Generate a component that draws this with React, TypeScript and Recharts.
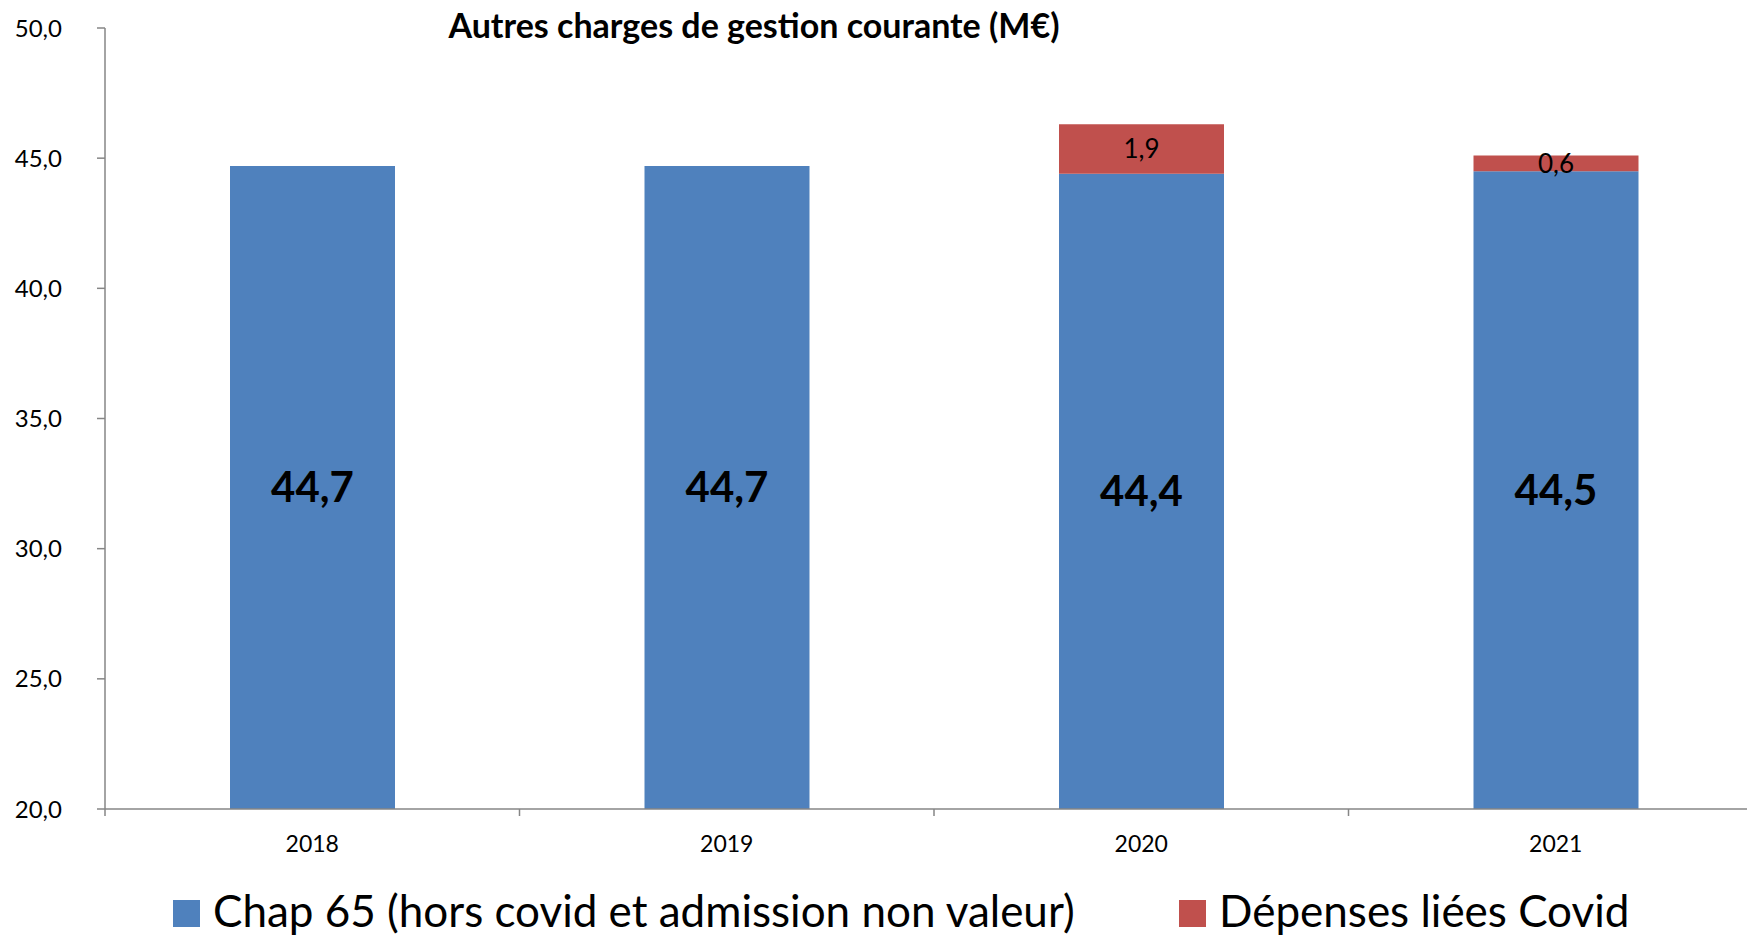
import React from 'react';
import { BarChart, Bar, XAxis, YAxis, LabelList } from 'recharts';

const categories = ['2018', '2019', '2020', '2021'];
const chap65Values = [44.7, 44.7, 44.4, 44.5];
const covidValues: (number | null)[] = [null, null, 1.9, 0.6];
const yTicks = [20, 25, 30, 35, 40, 45, 50];
const seriesNames = ['Chap 65 (hors covid et admission non valeur)', 'Dépenses liées Covid'];
const title = 'Autres charges de gestion courante (M€)';

const BLUE = '#4F81BD';
const RED = '#C0504D';
const GRAY = '#868686';

const data = categories.map((year, i) => ({
  year,
  chap65: chap65Values[i],
  covid: covidValues[i],
}));

const fmt = (v: any) => (v === null || v === undefined || v === '' ? '' : Number(v).toFixed(1).replace('.', ','));

const CHART_W = 1763;
const CHART_H = 936;
const Y_AXIS_W = 105;
const X_AXIS_H = 60;
const PLOT_W = CHART_W - Y_AXIS_W;
const BAND = PLOT_W / categories.length;

const XTick = (props: any) => {
  const { x, y, payload } = props;
  const bx = x - BAND / 2;
  return (
    <g>
      <line x1={bx} x2={bx} y1={y} y2={y + 7} stroke={GRAY} strokeWidth={1.5} />
      <text x={x} y={y + 43} textAnchor="middle" fontSize={23} fill="#000" fontFamily="Lato">
        {payload.value}
      </text>
    </g>
  );
};

export default function App() {
  return (
    <div style={{ position: 'relative', width: 1747, height: 936, overflow: 'hidden', fontFamily: 'Lato', background: '#fff' }}>
      <style>{`body{margin:0;overflow:hidden;}`}</style>
      <BarChart
        width={CHART_W}
        height={CHART_H}
        data={data}
        margin={{ top: 28, right: 0, bottom: 127 - X_AXIS_H, left: 0 }}
      >
        <XAxis
          dataKey="year"
          height={X_AXIS_H}
          tickLine={false}
          tickSize={0}
          tickMargin={0}
          interval={0}
          tick={<XTick />}
          axisLine={{ stroke: GRAY, strokeWidth: 1.5 }}
        />
        <YAxis
          type="number"
          domain={[20, 50]}
          ticks={yTicks}
          allowDataOverflow
          width={Y_AXIS_W}
          tickFormatter={fmt}
          tickSize={8}
          tickMargin={35}
          tick={{ fontSize: 24, fill: '#000', fontFamily: 'Lato' }}
          tickLine={{ stroke: GRAY, strokeWidth: 1.5 }}
          axisLine={{ stroke: GRAY, strokeWidth: 1.5 }}
        />
        <Bar dataKey="chap65" stackId="a" fill={BLUE} barSize={165} isAnimationActive={false}>
          <LabelList
            dataKey="chap65"
            position="center"
            formatter={fmt}
            fill="#000"
            fontSize={42}
            fontWeight={700}
            fontFamily="Lato"
          />
        </Bar>
        <Bar dataKey="covid" stackId="a" fill={RED} barSize={165} isAnimationActive={false}>
          <LabelList
            dataKey="covid"
            position="center"
            formatter={fmt}
            fill="#000"
            fontSize={26}
            fontFamily="Lato"
          />
        </Bar>
      </BarChart>
      <svg
        width={1747}
        height={936}
        style={{ position: 'absolute', left: 0, top: 0, pointerEvents: 'none' }}
      >
        <text x={754} y={38} textAnchor="middle" fontSize={34} fontWeight={700} fill="#000" fontFamily="Lato">
          {title}
        </text>
        <rect x={173} y={900} width={27} height={27} fill={BLUE} />
        <text x={213} y={927} fontSize={44} fill="#000" fontFamily="Lato">
          {seriesNames[0]}
        </text>
        <rect x={1179} y={900} width={27} height={27} fill={RED} />
        <text x={1219} y={927} fontSize={44} fill="#000" fontFamily="Lato">
          {seriesNames[1]}
        </text>
      </svg>
    </div>
  );
}
